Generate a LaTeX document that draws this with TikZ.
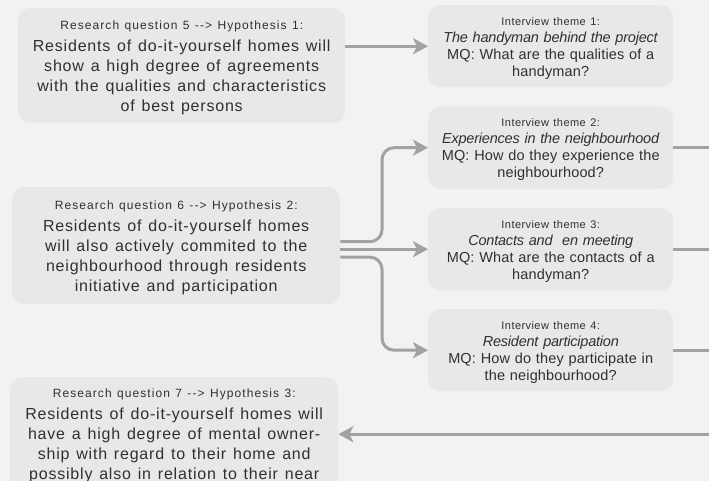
\documentclass[tikz,border=0pt]{standalone}
\usepackage{fontspec}
\setmainfont{Liberation Sans}
% tracked cuts of the same sans for the different text levels
\newfontfamily\hypsmall{Liberation Sans}[LetterSpace=9]
\newfontfamily\hypmain{Liberation Sans}[LetterSpace=5]
\newfontfamily\themesmall{Liberation Sans}[LetterSpace=4]
\newfontfamily\thememain{Liberation Sans}[LetterSpace=1.0,
  ItalicFeatures={LetterSpace=-1.5}]
\usetikzlibrary{arrows.meta,calc}

\definecolor{pagebg}{HTML}{F2F2F2}
\definecolor{boxbg}{HTML}{E8E8E8}
\definecolor{ink}{HTML}{303030}
\definecolor{wire}{HTML}{A2A2A6}

% heading line and body of a hypothesis box / a theme box
% (the strut gives the heading line some extra room above it)
\newcommand\hyphead[1]{{\hypsmall\fontsize{12}{15}\selectfont
    \spaceskip=5.4pt\relax\rule{0pt}{12.75pt}#1\par}\vskip2pt
  \hypmain\fontsize{16}{20}\selectfont\spaceskip=6.8pt\relax}
\newcommand\themehead[1]{{\themesmall\fontsize{11}{13}\selectfont
    \spaceskip=4.5pt\relax\rule{0pt}{12pt}#1\par}%
  \thememain\fontsize{14.5}{17}\selectfont\spaceskip=4.8pt\relax}

\tikzset{
  panel/.style={fill=boxbg, rounded corners=12pt, inner sep=0pt, text=ink,
                align=center, anchor=north west},
  hypbox/.style={panel, minimum width=#1, text width=#1},
  themebox/.style={panel, minimum width=245pt, text width=245pt, minimum height=82pt},
  link/.style={draw=wire, line width=3pt},
  arrowlink/.style={link, -{Stealth[length=15pt,width=16pt,inset=4pt]}},
}

\begin{document}
\begin{tikzpicture}[x=1pt, y=-1pt]
  \useasboundingbox (0,0) rectangle (709,481);
  \clip (0,0) rectangle (709,481);
  \fill[pagebg] (0,0) rectangle (709,481);

  % right-hand frame edge and the vertical distribution bus
  \coordinate (rim) at (709,0);
  \coordinate (bus) at (382,0);

  % hypotheses
  \node[hypbox=327pt, minimum height=115pt] (h1) at (18,8)
    {\hyphead{Research question 5 -{}-> Hypothesis 1:}
     Residents of do-it-yourself homes will\\
     show a high degree of agreements\\
     with the qualities and characteristics\\
     of best persons\par};

  \node[hypbox=328pt, minimum height=117pt] (h2) at (12,187)
    {\hyphead{Research question 6 -{}-> Hypothesis 2:}
     Residents of do-it-yourself homes\\
     will also actively commited to the\\
     neighbourhood through residents\\
     initiative and participation\par};

  \node[panel, minimum width=328pt, minimum height=114pt] (h3) at (10,377) {};
  \node[anchor=north, inner sep=0pt, text=ink, align=center, text width=328pt,
        yshift=-8pt] (h3text) at (h3.north)
    {\hyphead{Research question 7 -{}-> Hypothesis 3:}
     Residents of do-it-yourself homes will\\
     have a high degree of mental owner-\\
     ship with regard to their home and\\
     possibly also in relation to their near\par};

  % interview themes
  \node[themebox] (t1) at (428,5)
    {\themehead{Interview theme 1:}
     \textit{The handyman behind the project}\\
     MQ: What are the qualities of a\\
     handyman?\par};

  \node[themebox] (t2) at (428,106.5)
    {\themehead{Interview theme 2:}
     \textit{Experiences in the neighbourhood}\\
     MQ: How do they experience the\\
     neighbourhood?\par};

  \node[themebox] (t3) at (428,208)
    {\themehead{Interview theme 3:}
     \textit{Contacts and \ en meeting}\\
     MQ: What are the contacts of a\\
     handyman?\par};

  \node[themebox] (t4) at (428,309)
    {\themehead{Interview theme 4:}
     \textit{Resident participation}\\
     MQ: How do they participate in\\
     the neighbourhood?\par};

  % connectors
  \draw[arrowlink] (h1.east |- t1.west) -- (t1.west);

  \draw[arrowlink, rounded corners=12pt]
    ($(h2.east |- t3.west)+(0,-7.5)$) -- ($(bus |- t3.west)+(0,-7.5)$)
    -- (bus |- t2.west) -- (t2.west);
  \draw[arrowlink] (h2.east |- t3.west) -- (t3.west);
  \draw[arrowlink, rounded corners=12pt]
    ($(h2.east |- t3.west)+(0,8)$) -- ($(bus |- t3.west)+(0,8)$)
    -- (bus |- t4.west) -- (t4.west);

  \draw[link] (t2.east) -- (t2.east -| rim);
  \draw[link] (t3.east) -- (t3.east -| rim);
  \draw[link] (t4.east) -- (t4.east -| rim);

  \draw[arrowlink] (h3.east -| rim) -- (h3.east);
\end{tikzpicture}
\end{document}
